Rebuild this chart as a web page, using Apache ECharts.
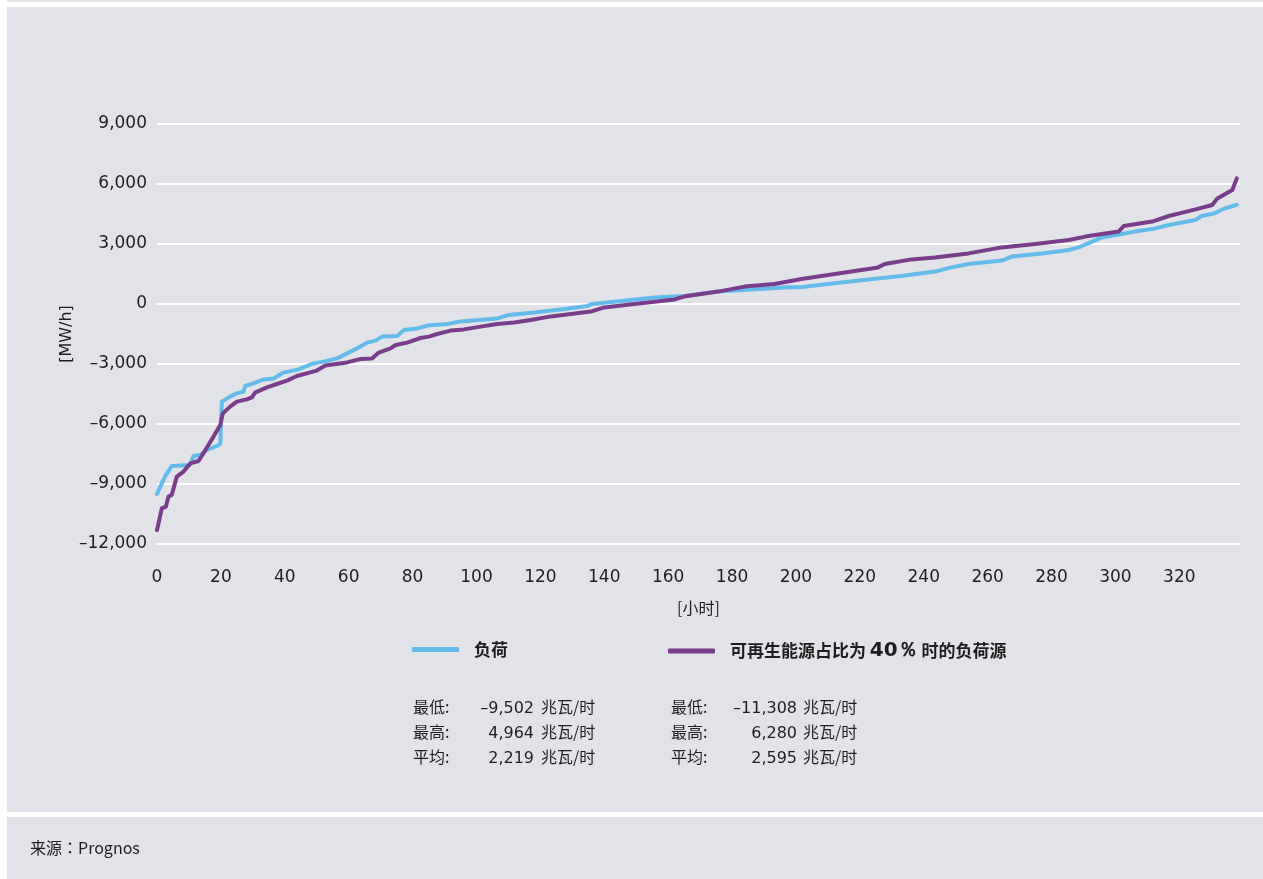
<!DOCTYPE html>
<html>
<head>
<meta charset="utf-8">
<script src="https://cdn.jsdelivr.net/npm/echarts@6/dist/echarts.min.js"></script>
<style>
  html, body { margin: 0; padding: 0; background: #ffffff; }
  #chart { width: 1263px; height: 879px; }
</style>
</head>
<body>
<div id="chart"></div>
<script>
// Sorted hourly load (duration curve), hours and MW/h
const loadHours = [0, 2.5, 4.6, 10.3, 11.4, 13.5, 15.6, 18.7, 19.8, 20.3, 22.9, 25, 27.1, 27.6, 30.2, 33.4, 36.5, 39.6, 44, 49, 52.2, 56.4, 59.5, 62.6, 65.8, 68.4, 70.5, 75.2, 77.3, 81.5, 84.6, 90.9, 95, 101, 106.5, 110, 118, 126.4, 134.8, 136, 144, 155.7, 165, 175.6, 186, 196.5, 202, 210, 222.6, 233, 243.5, 248.7, 254, 264.4, 267.6, 277, 285.4, 288.5, 292.7, 295.8, 302, 306, 312.5, 316.7, 325, 327, 331, 333.4, 338];
const loadValues = [-9502, -8630, -8100, -8050, -7600, -7550, -7300, -7100, -7000, -4880, -4630, -4470, -4380, -4100, -3970, -3770, -3720, -3430, -3280, -2970, -2880, -2720, -2470, -2220, -1930, -1830, -1630, -1600, -1300, -1220, -1080, -1000, -870, -800, -720, -550, -430, -270, -100, 0, 120, 320, 400, 620, 730, 830, 850, 1000, 1230, 1400, 1620, 1830, 2000, 2170, 2370, 2530, 2700, 2830, 3120, 3330, 3500, 3620, 3780, 3950, 4200, 4400, 4530, 4730, 4964];

// Sorted residual load at 40 % renewables share
const residualHours = [0, 1.5, 2.8, 3.6, 4.6, 6.2, 8.3, 10.4, 13, 14.5, 16.1, 17.7, 19.8, 20.6, 22.9, 25, 28.1, 29.7, 30.7, 34.4, 37.5, 40.7, 43.8, 50, 52.7, 59.5, 63.7, 67.3, 69.4, 73.1, 74.7, 78.3, 82.5, 85.1, 87.7, 91.9, 96.1, 101.3, 106.5, 111.8, 117, 123.3, 135.8, 140, 149.4, 162, 165, 175.6, 183.9, 193.3, 201.7, 212.2, 225.7, 227.8, 236.2, 243.5, 254, 264.4, 274.9, 285.4, 290.6, 301, 302.6, 311.5, 316.7, 325.1, 330.3, 331.9, 336.6, 338];
const residualValues = [-11308, -10220, -10130, -9630, -9550, -8630, -8380, -7970, -7850, -7470, -7050, -6630, -6050, -5470, -5130, -4880, -4770, -4670, -4430, -4170, -4000, -3830, -3600, -3330, -3080, -2920, -2750, -2720, -2430, -2220, -2050, -1930, -1700, -1630, -1500, -1330, -1270, -1130, -1000, -930, -800, -620, -380, -170, 0, 230, 370, 620, 870, 1000, 1250, 1500, 1830, 2000, 2230, 2330, 2530, 2830, 3000, 3200, 3370, 3620, 3900, 4120, 4400, 4730, 4950, 5280, 5700, 6280];

const seriesNames = ['负荷', '可再生能源占比为 40％ 时的负荷源'];
const statLabels = ['最低:', '最高:', '平均:'];
const loadStats = [-9502, 4964, 2219];
const residualStats = [-11308, 6280, 2595];
const statUnit = '兆瓦/时';
const sourceText = '来源：Prognos';

const BLUE = '#62bbeb';
const PURPLE = '#793d8c';
const PANEL = '#e2e3e8';
const TEXT = '#1e1e1e';
const NUM_FONT = 'DejaVu Sans';
const CJK_FONT = 'Noto Sans CJK SC';

function fmt(v) {
  const s = Math.abs(v).toString().replace(/\B(?=(\d{3})+(?!\d))/g, ',');
  return (v < 0 ? '–' : '') + s;
}
function zip(xs, ys) { return xs.map((x, i) => [x, ys[i]]); }

// Stats block beneath the legend
const statText = [];
const cols = [
  { labelX: 413, numRight: 534, unitX: 541, stats: loadStats },
  { labelX: 671, numRight: 797, unitX: 803, stats: residualStats }
];
const rowY = [707, 732, 757];
function txt(x, y, text, family, align) {
  return { type: 'text', x: x, y: y, silent: true,
    style: { text: text, fontSize: 16, fontFamily: family, fill: TEXT, align: align, verticalAlign: 'middle' } };
}
cols.forEach(c => {
  statLabels.forEach((lab, i) => {
    statText.push(txt(c.labelX, rowY[i], lab, CJK_FONT, 'left'));
    statText.push(txt(c.numRight, rowY[i] + 2, fmt(c.stats[i]), NUM_FONT, 'right'));
    statText.push(txt(c.unitX, rowY[i], statUnit, CJK_FONT, 'left'));
  });
});

const chart = echarts.init(document.getElementById('chart'), null, { renderer: 'canvas' });

const legendBase = {
  top: 636,
  itemWidth: 47,
  itemHeight: 5,
  icon: 'roundRect',
  itemGap: 20,
  selectedMode: false,
  textStyle: { fontSize: 17, fontWeight: 'bold', color: TEXT, fontFamily: CJK_FONT, padding: [0, 0, 0, 10],
    rich: { b: { fontSize: 20, fontWeight: 'bold', color: TEXT, fontFamily: NUM_FONT } } },
  formatter: name => name.replace('40％', '{b|40％}')
};

chart.setOption({
  backgroundColor: PANEL,
  animation: false,
  grid: { left: 157, right: 23, top: 124, bottom: 335, containLabel: false },
  xAxis: {
    type: 'value',
    min: 0,
    max: 339,
    interval: 20,
    name: '[小时]',
    nameLocation: 'middle',
    nameGap: 56,
    nameMoveOverlap: false,
    nameTextStyle: { fontSize: 16, color: TEXT, fontFamily: CJK_FONT },
    axisLine: { show: false },
    axisTick: { show: false },
    splitLine: { show: false },
    axisLabel: { margin: 25, fontSize: 17, color: TEXT, fontFamily: NUM_FONT, showMaxLabel: false }
  },
  yAxis: {
    type: 'value',
    min: -12000,
    max: 9000,
    interval: 3000,
    name: '[MW/h]',
    nameLocation: 'middle',
    nameGap: 82,
    nameMoveOverlap: false,
    nameRotate: 90,
    nameTextStyle: { fontSize: 16, color: TEXT, fontFamily: NUM_FONT },
    axisLine: { show: false },
    axisTick: { show: false },
    splitLine: { lineStyle: { color: '#ffffff', width: 2 } },
    axisLabel: { margin: 10, fontSize: 17, color: TEXT, fontFamily: NUM_FONT, padding: [4, 0, 0, 0], formatter: v => fmt(v) }
  },
  legend: [
    Object.assign({}, legendBase, { left: 407, data: [seriesNames[0]] }),
    Object.assign({}, legendBase, { left: 663, data: [seriesNames[1]] })
  ],
  series: [
    {
      name: seriesNames[0],
      type: 'line',
      data: zip(loadHours, loadValues),
      showSymbol: false,
      symbol: 'none',
      color: BLUE,
      lineStyle: { width: 4, color: BLUE, cap: 'round', join: 'round' },
      z: 2
    },
    {
      name: seriesNames[1],
      type: 'line',
      data: zip(residualHours, residualValues),
      showSymbol: false,
      symbol: 'none',
      color: PURPLE,
      lineStyle: { width: 4, color: PURPLE, cap: 'round', join: 'round' },
      z: 3
    }
  ],
  graphic: {
    elements: [
      // white gutters separating the panels
      { type: 'rect', shape: { x: 0, y: 0, width: 7, height: 879 }, style: { fill: '#ffffff' }, silent: true },
      { type: 'rect', shape: { x: 0, y: 2, width: 1263, height: 5 }, style: { fill: '#ffffff' }, silent: true },
      { type: 'rect', shape: { x: 0, y: 812, width: 1263, height: 5 }, style: { fill: '#ffffff' }, silent: true },
      txt(30, 848, sourceText, 'Noto Sans CJK TC', 'left')
    ].concat(statText)
  }
});
</script>
</body>
</html>
